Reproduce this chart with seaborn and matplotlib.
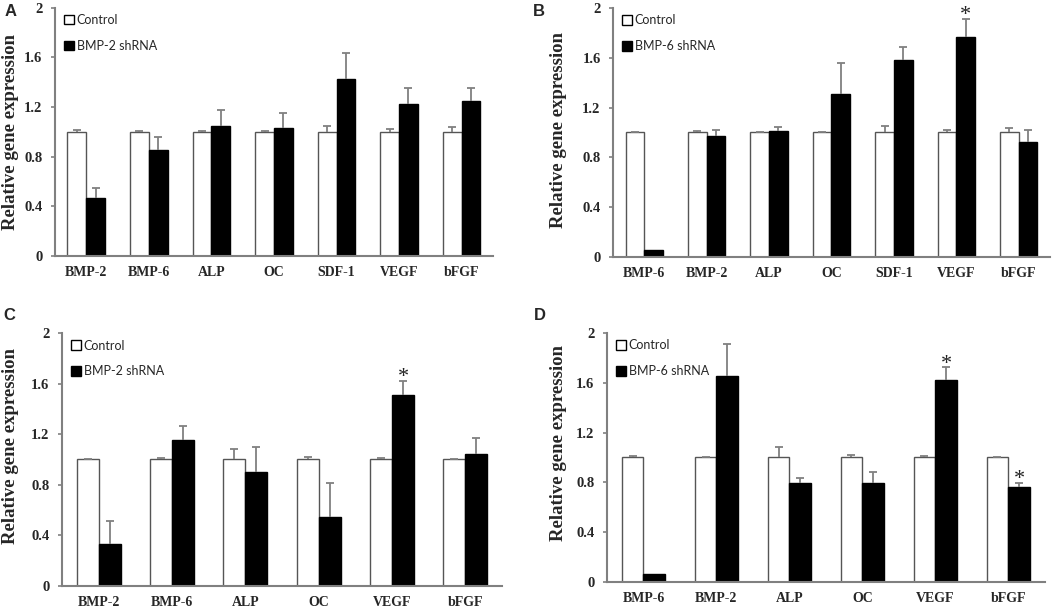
import numpy as np
import pandas as pd
import matplotlib
matplotlib.use("Agg")
import matplotlib.pyplot as plt
import seaborn as sns
from matplotlib.patches import Patch

# ---------------- data ----------------
genes_A = ["BMP-2", "BMP-6", "ALP", "OC", "SDF-1", "VEGF", "bFGF"]
ctrl_A = [1.0, 1.0, 1.0, 1.0, 1.0, 1.0, 1.0]
ctrl_err_A = [0.016, 0.004, 0.003, 0.004, 0.05, 0.02, 0.035]
sh_A = [0.47, 0.855, 1.05, 1.03, 1.425, 1.22, 1.245]
sh_err_A = [0.075, 0.105, 0.125, 0.125, 0.21, 0.13, 0.107]
star_A = []

genes_B = ["BMP-6", "BMP-2", "ALP", "OC", "SDF-1", "VEGF", "bFGF"]
ctrl_B = [1.0, 1.0, 1.0, 1.0, 1.0, 1.0, 1.0]
ctrl_err_B = [0.004, 0.01, 0.003, 0.004, 0.052, 0.02, 0.036]
sh_B = [0.056, 0.97, 1.01, 1.31, 1.578, 1.77, 0.926]
sh_err_B = [0.0, 0.048, 0.035, 0.247, 0.105, 0.145, 0.09]
star_B = ["VEGF"]

genes_C = ["BMP-2", "BMP-6", "ALP", "OC", "VEGF", "bFGF"]
ctrl_C = [1.0, 1.0, 1.0, 1.0, 1.0, 1.0]
ctrl_err_C = [0.003, 0.013, 0.084, 0.02, 0.01, 0.003]
sh_C = [0.332, 1.156, 0.902, 0.549, 1.512, 1.045]
sh_err_C = [0.185, 0.108, 0.195, 0.264, 0.111, 0.124]
star_C = ["VEGF"]

genes_D = ["BMP-6", "BMP-2", "ALP", "OC", "VEGF", "bFGF"]
ctrl_D = [1.0, 1.0, 1.0, 1.0, 1.0, 1.0]
ctrl_err_D = [0.015, 0.003, 0.087, 0.023, 0.012, 0.003]
sh_D = [0.062, 1.656, 0.792, 0.792, 1.619, 0.76]
sh_err_D = [0.0, 0.255, 0.043, 0.091, 0.104, 0.035]
star_D = ["VEGF", "bFGF"]

yticks = [0, 0.4, 0.8, 1.2, 1.6, 2]
ytick_labels = ["0", "0.4", "0.8", "1.2", "1.6", "2"]

# ---------------- style ----------------
sns.set_theme(style="white")
plt.rcParams["font.family"] = ["Liberation Serif", "DejaVu Serif"]

SERIF = "Liberation Serif"
GRAY = "#808080"

fig = plt.figure(figsize=(10.63, 6.09), dpi=100)

panels = [
    ("A", genes_A, ctrl_A, ctrl_err_A, sh_A, sh_err_A, star_A, "BMP-2 shRNA",
     [0.0517, 0.5796, 0.412, 0.408], (-0.082, 0.5), (11 / 1063, 1 - 12 / 609)),
    ("B", genes_B, ctrl_B, ctrl_err_B, sh_B, sh_err_B, star_B, "BMP-6 shRNA",
     [0.5767, 0.578, 0.411, 0.409], (-0.105, 0.51), (539 / 1063, 1 - 12 / 609)),
    ("C", genes_C, ctrl_C, ctrl_err_C, sh_C, sh_err_C, star_C, "BMP-2 shRNA",
     [0.0583, 0.0378, 0.414, 0.4154], (-0.098, 0.553), (9 / 1063, 1 - 315 / 609)),
    ("D", genes_D, ctrl_D, ctrl_err_D, sh_D, sh_err_D, star_D, "BMP-6 shRNA",
     [0.571, 0.0443, 0.412, 0.409], (-0.091, 0.558), (540 / 1063, 1 - 315 / 609)),
]

for letter, genes, ctrl, ctrl_err, sh, sh_err, stars, sh_label, rect, lab_xy, let_xy in panels:
    ax = fig.add_axes(rect)
    df = pd.DataFrame({
        "gene": genes + genes,
        "group": ["Control"] * len(genes) + [sh_label] * len(genes),
        "value": list(ctrl) + list(sh),
    })
    sns.barplot(data=df, x="gene", y="value", hue="group",
                hue_order=["Control", sh_label],
                palette={"Control": "white", sh_label: "black"},
                errorbar=None, width=0.6, ax=ax, legend=False,
                linewidth=1.0)
    for p in ax.containers[0]:
        p.set_edgecolor("#555555")
        p.set_linewidth(1.0)
    for p in ax.containers[1]:
        p.set_edgecolor("black")
        p.set_linewidth(1.0)

    # error bars (upper only), positioned from the bar patches
    for cont, errs in ((ax.containers[0], ctrl_err), (ax.containers[1], sh_err)):
        for p, e in zip(cont, errs):
            if e <= 0:
                continue
            xc = p.get_x() + p.get_width() / 2
            h = p.get_height()
            _, caps, _ = ax.errorbar([xc], [h], yerr=[[0], [e]], fmt="none",
                                     ecolor=GRAY, elinewidth=1.3, capsize=3,
                                     capthick=1.3, zorder=3)
            if len(caps) > 1:
                caps[0].set_visible(False)

    # stars above shRNA bars
    for p, g, e in zip(ax.containers[1], genes, sh_err):
        if g in stars:
            xc = p.get_x() + p.get_width() / 2
            ax.annotate("*", (xc, p.get_height() + e), xytext=(0, -1),
                        textcoords="offset points", ha="center", va="baseline",
                        fontsize=16, family=SERIF, color="#222222")

    ax.set_ylim(0, 2)
    ax.set_xlim(-0.5, len(genes) - 0.5)
    ax.set_yticks(yticks)
    ax.set_yticklabels(ytick_labels, family=SERIF, fontweight="bold", fontsize=10.5)
    ax.set_xticks(range(len(genes)))
    ax.set_xticklabels(genes, family=SERIF, fontweight="bold", fontsize=10)
    ax.tick_params(axis="y", length=3, width=1.2, color=GRAY, pad=6, direction="out", left=True)
    ax.tick_params(axis="x", length=0, pad=7)
    ax.set_xlabel("")
    ax.set_ylabel("Relative gene expression", family=SERIF, fontweight="bold", fontsize=13.5)
    ax.yaxis.set_label_coords(*lab_xy)

    sns.despine(ax=ax)
    for s in ("left", "bottom"):
        ax.spines[s].set_color(GRAY)
        ax.spines[s].set_linewidth(1.5)

    handles = [Patch(facecolor="white", edgecolor="black", linewidth=1.0),
               Patch(facecolor="black", edgecolor="black", linewidth=1.0)]
    ax.legend(handles, ["Control", sh_label], loc="upper left",
              bbox_to_anchor=(0.015, 0.984), frameon=False,
              prop={"family": "Lato", "size": 9},
              handlelength=0.8, handleheight=0.8, handletextpad=0.2,
              labelspacing=1.1, borderaxespad=0, borderpad=0.2)

    fig.text(let_xy[0], let_xy[1], letter, ha="center", va="center",
             family="Liberation Sans", fontweight="bold", fontsize=12)

fig.savefig("out.png", dpi=100)
